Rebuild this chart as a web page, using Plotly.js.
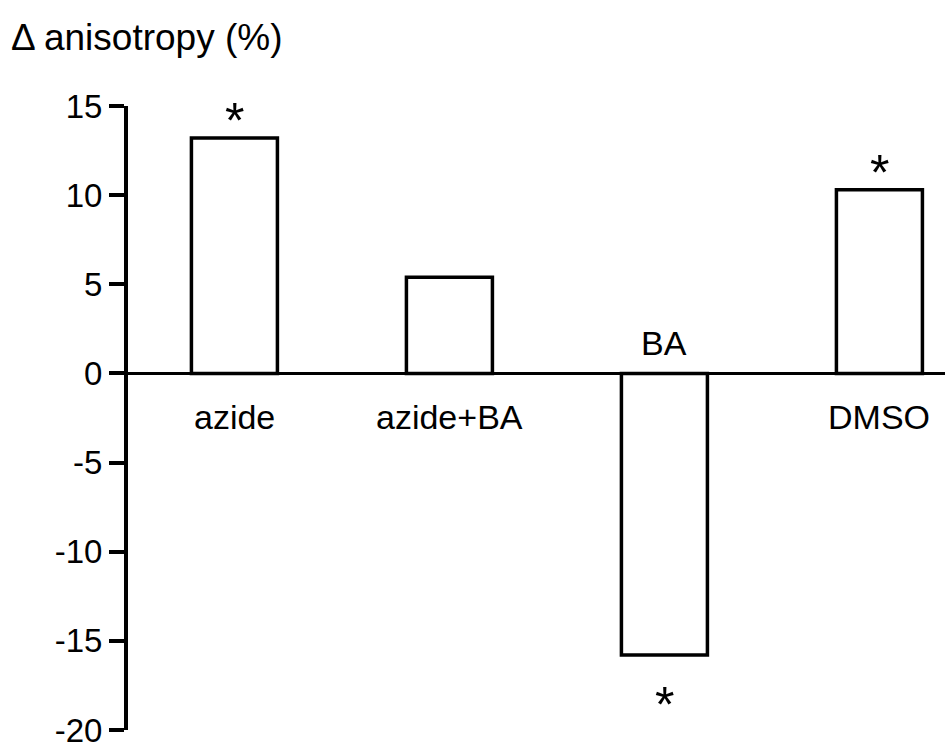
<!DOCTYPE html>
<html>
<head>
<meta charset="utf-8">
<script src="https://cdn.plot.ly/plotly-3.0.1.min.js"></script>
<style>html,body{margin:0;padding:0;background:#fff;}#chart{width:945px;height:751px;}</style>
</head>
<body>
<div id="chart"></div>
<script>
const categories = ['azide', 'azide+BA', 'BA', 'DMSO'];
const values = [13.2, 5.4, -15.8, 10.3];
const significant = [true, false, true, true];
const yTickValues = [-20, -15, -10, -5, 0, 5, 10, 15];
const yTickLabels = ['-20', '-15', '-10', '-5', '0', '5', '10', '15'];
const titleText = '\u0394 anisotropy (%)';

const FONT = '"Liberation Sans", Arial, Helvetica, sans-serif';

const trace = {
  type: 'bar',
  x: categories,
  y: values,
  width: 0.4,
  marker: { color: '#ffffff', line: { color: '#000000', width: 3.5 } },
  hoverinfo: 'skip'
};

const annotations = [];
categories.forEach((c, i) => {
  const v = values[i];
  annotations.push({
    x: c, y: 0, xref: 'x', yref: 'y',
    text: c, showarrow: false,
    xanchor: 'center', yanchor: 'middle',
    yshift: v >= 0 ? -44 : 30,
    font: { family: FONT, size: 34, color: '#000' }
  });
  if (significant[i]) {
    annotations.push({
      x: c, y: v, xref: 'x', yref: 'y',
      text: '*', showarrow: false,
      xanchor: 'center', yanchor: 'middle',
      yshift: v >= 0 ? 17 : -50,
      font: { family: FONT, size: 50, color: '#000' }
    });
  }
});

const layout = {
  width: 945, height: 751,
  margin: { l: 128, r: 0, t: 106, b: 21, pad: 0 },
  paper_bgcolor: '#fff', plot_bgcolor: '#fff',
  showlegend: false,
  title: {
    text: titleText, xref: 'container', yref: 'container',
    x: 11 / 945, xanchor: 'left', y: 1 - 37 / 751, yanchor: 'middle',
    font: { family: FONT, size: 37, color: '#000' }
  },
  xaxis: {
    type: 'category',
    range: [-0.495, 3.305],
    showticklabels: false, ticks: '', showline: false, showgrid: false, zeroline: false,
    fixedrange: true
  },
  yaxis: {
    range: [-20, 15],
    tickvals: yTickValues, ticktext: yTickLabels,
    ticks: 'outside', ticklen: 15, tickwidth: 4, tickcolor: '#000',
    showline: true, linecolor: '#000', linewidth: 4,
    showgrid: false,
    zeroline: true, zerolinecolor: '#000', zerolinewidth: 3.5,
    ticklabelstandoff: 0,
    tickfont: { family: FONT, size: 33, color: '#000' },
    fixedrange: true
  },
  annotations: annotations
};

Plotly.newPlot('chart', [trace], layout, { displayModeBar: false, staticPlot: true });
</script>
</body>
</html>
